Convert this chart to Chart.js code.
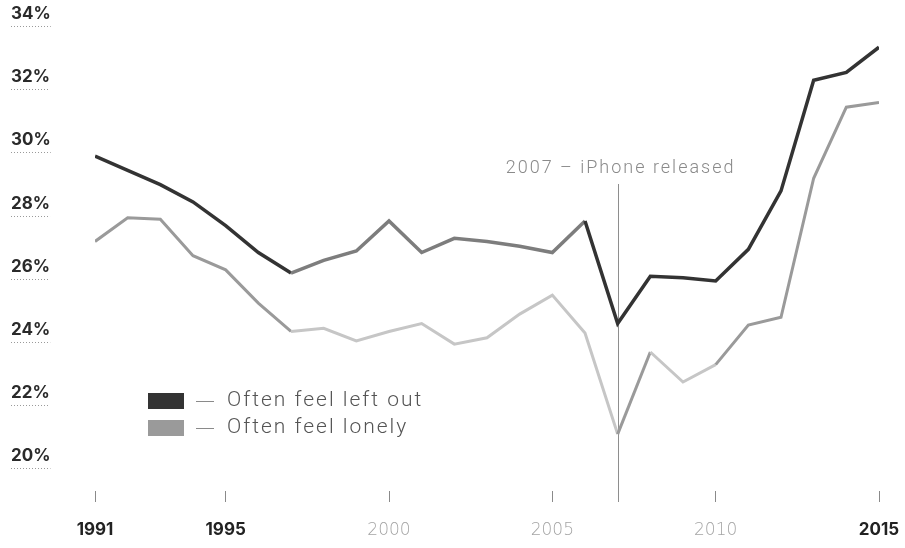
<!DOCTYPE html>
<html>
<head>
<meta charset="utf-8">
<script src="https://cdn.jsdelivr.net/npm/chart.js@4.4.1/dist/chart.umd.min.js"></script>
<style>
  html, body { margin: 0; padding: 0; background: #fff; }
  #wrap { width: 905px; height: 548px; position: relative; }
</style>
</head>
<body>
<div id="wrap"><canvas id="chart"></canvas></div>
<script>
// #region Data
// ---------------------------------------
const years = [1991, 1992, 1993, 1994, 1995, 1996, 1997, 1998, 1999, 2000, 2001, 2002, 2003,
  2004, 2005, 2006, 2007, 2008, 2009, 2010, 2011, 2012, 2013, 2014, 2015];

const leftOut = [29.5, 29.05, 28.6, 28.05, 27.3, 26.45, 25.8, 26.2, 26.5, 27.45, 26.45, 26.9, 26.8,
  26.65, 26.45, 27.45, 24.2, 25.7, 25.65, 25.55, 26.55, 28.4, 31.9, 32.15, 32.95];

const lonely = [26.8, 27.55, 27.5, 26.35, 25.9, 24.85, 23.95, 24.05, 23.65, 23.95, 24.2, 23.55, 23.75,
  24.5, 25.1, 23.9, 20.7, 23.3, 22.35, 22.9, 24.15, 24.4, 28.8, 31.05, 31.2];

const seriesLabels = ["Often feel left out", "Often feel lonely"];
const yTicks = [20, 22, 24, 26, 28, 30, 32, 34];
const xTicks = [1991, 1995, 2000, 2005, 2010, 2015];
const strongYears = [1991, 1995, 2015];
const markerYear = 2007;
const markerText = "2007 \u2013 iPhone released";
// ---------------------------------------
// #endregion

const DARK = "#333333";
const GREY = "#9a9a9a";

const toPoints = (values) => years.map((yr, i) => ({ x: yr, y: values[i] }));

// segments in the middle of the period are drawn lighter, like the source
const inRange = (ctx, from, to) => ctx.p0.parsed.x >= from && ctx.p0.parsed.x < to;
const isStrong = (ctx) => !!ctx.tick && strongYears.includes(ctx.tick.value);

const overlayPlugin = {
  id: "overlay",
  beforeDatasetsDraw(chart) {
    const { ctx, scales: { x } } = chart;
    const px = Math.round(x.getPixelForValue(markerYear)) + 0.5;
    ctx.save();
    ctx.strokeStyle = "#8e8e8e";
    ctx.lineWidth = 1;
    ctx.beginPath();
    ctx.moveTo(px, 184);
    ctx.lineTo(px, x.top + 11);
    ctx.stroke();
    ctx.restore();
  },
  afterDraw(chart) {
    const { ctx, scales: { x, y } } = chart;
    ctx.save();

    // marker caption
    ctx.font = "300 18px Roboto";
    ctx.letterSpacing = "2px";
    ctx.fillStyle = "#8a8a8a";
    ctx.textAlign = "center";
    ctx.textBaseline = "middle";
    ctx.fillText(markerText, x.getPixelForValue(markerYear) + 3, 168);

    // dotted underline below the y labels
    ctx.letterSpacing = "0px";
    ctx.font = "bold 17px Inter";
    ctx.strokeStyle = "#9a9a9a";
    ctx.lineWidth = 1;
    ctx.setLineDash([1, 2]);
    yTicks.forEach((v) => {
      const w = ctx.measureText(v + "%").width;
      const py = Math.round(y.getPixelForValue(v)) + 12.5;
      ctx.beginPath();
      ctx.moveTo(11, py);
      ctx.lineTo(11 + w, py);
      ctx.stroke();
    });
    ctx.setLineDash([]);

    // legend inside the plot
    const colors = [DARK, GREY];
    ctx.textAlign = "left";
    ctx.letterSpacing = "2px";
    seriesLabels.forEach((label, i) => {
      const top = 393 + i * 27;
      ctx.fillStyle = colors[i];
      ctx.fillRect(148, top, 36, 16);
      ctx.fillStyle = "#8a8a8a";
      ctx.fillRect(196, top + 8, 18, 1);
      ctx.font = "300 21px Roboto";
      ctx.fillStyle = "#555555";
      ctx.fillText(label, 227, top + 8);
    });
    ctx.restore();
  },
};

new Chart(document.getElementById("chart"), {
  type: "line",
  data: {
    datasets: [
      {
        label: seriesLabels[0],
        data: toPoints(leftOut),
        borderColor: DARK,
        borderWidth: 3.5,
        pointRadius: 0,
        tension: 0,
        segment: {
          borderColor: (ctx) => (inRange(ctx, 1997, 2006) ? "#7d7d7d" : DARK),
        },
      },
      {
        label: seriesLabels[1],
        data: toPoints(lonely),
        borderColor: GREY,
        borderWidth: 3,
        pointRadius: 0,
        tension: 0,
        segment: {
          borderColor: (ctx) =>
            inRange(ctx, 1997, 2007) || inRange(ctx, 2008, 2010) ? "#c6c6c6" : GREY,
        },
      },
    ],
  },
  options: {
    responsive: true,
    maintainAspectRatio: false,
    animation: false,
    layout: { padding: { left: 11, right: 26, top: 14, bottom: 0 } },
    plugins: {
      legend: { display: false },
      tooltip: { enabled: false },
    },
    scales: {
      x: {
        type: "linear",
        min: years[0],
        max: years[years.length - 1],
        afterBuildTicks: (scale) => {
          scale.ticks = xTicks.map((v) => ({ value: v }));
        },
        afterFit: (scale) => {
          scale.height = 57;
          // the label padding would otherwise push the plot in from the right
          scale.paddingLeft = 0;
          scale.paddingRight = 0;
        },
        grid: {
          drawOnChartArea: false,
          drawTicks: true,
          tickLength: 11,
          color: "#8a8a8a",
          lineWidth: 1,
        },
        border: { display: false },
        ticks: {
          padding: 18,
          maxRotation: 0,
          autoSkip: false,
          callback: (v) => String(v),
          color: (ctx) => (isStrong(ctx) ? "#222222" : "#a4a4a4"),
          font: (ctx) =>
            isStrong(ctx)
              ? { family: "Inter", size: 17, weight: "bold" }
              : { family: "DejaVu Sans", size: 17, weight: "200" },
        },
      },
      y: {
        min: 18.9,
        max: 34,
        afterBuildTicks: (scale) => {
          scale.ticks = yTicks.map((v) => ({ value: v }));
        },
        afterFit: (scale) => {
          scale.width = 84;
        },
        grid: { display: false },
        border: { display: false },
        ticks: {
          crossAlign: "far",
          color: "#2a2a2a",
          font: { family: "Inter", size: 17, weight: "bold" },
          callback: (v) => v + "%",
        },
      },
    },
  },
  plugins: [overlayPlugin],
});
</script>
</body>
</html>
